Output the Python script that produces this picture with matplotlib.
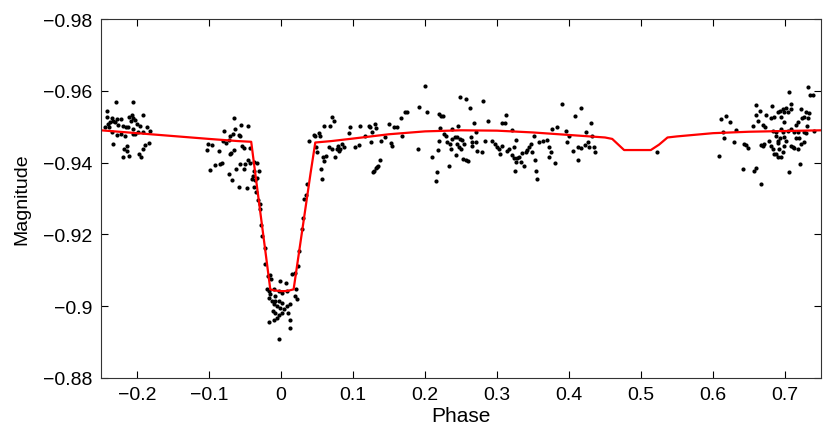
import matplotlib
matplotlib.use("Agg")
import matplotlib.pyplot as plt
import numpy as np

plt.rcParams['font.family'] = ['Liberation Sans', 'DejaVu Sans']

# observed points, grouped by phase range
left_phase = [-0.2296, -0.2050, -0.2421, -0.2412, -0.2352, -0.2328, -0.2282, -0.2226, -0.2106, -0.2073,
              -0.2050, -0.2027, -0.2087, -0.1911, -0.2398, -0.2375, -0.2305, -0.2259, -0.2189, -0.2152,
              -0.2120, -0.2050, -0.2004, -0.1957, -0.1864, -0.1818, -0.1911, -0.2050, -0.2166, -0.2226,
              -0.2282, -0.2352, -0.2328, -0.2143, -0.2180, -0.2143, -0.1888, -0.1911, -0.1827, -0.2189,
              -0.2106, -0.1966, -0.1943, -0.2444, -0.2384, -0.1980, -0.2027]
left_mag = [-0.9568, -0.9568, -0.9543, -0.9528, -0.9524, -0.9517, -0.9521, -0.9521, -0.9528, -0.9533,
            -0.9524, -0.9519, -0.9515, -0.9533, -0.9507, -0.9512, -0.9512, -0.9506, -0.9503, -0.9498,
            -0.9500, -0.9493, -0.9507, -0.9503, -0.9498, -0.9487, -0.9484, -0.9481, -0.9475, -0.9480,
            -0.9478, -0.9484, -0.9452, -0.9447, -0.9438, -0.9433, -0.9450, -0.9438, -0.9454, -0.9416,
            -0.9419, -0.9424, -0.9416, -0.9498, -0.9498, -0.9484, -0.9480]

eclipse_phase = [-0.0650, -0.0557, -0.0459, -0.0789, -0.0636, -0.0668, -0.0715, -0.0589, -0.0566, -0.0761,
                 -0.0808, -0.0729, -0.0543, -0.0520, -0.0427, -0.0659, -0.0696, -0.0715, -0.1021, -0.0961,
                 -0.1030, -0.0868, -0.0984, -0.0914, -0.0845, -0.0821, -0.0729, -0.0682, -0.0622, -0.0575,
                 -0.0497, -0.0520, -0.0459, -0.0436, -0.0381, -0.0334, -0.0311, -0.0381, -0.0390, -0.0404,
                 -0.0357, -0.0334, -0.0589, -0.0473, -0.0381, -0.0343, -0.0325, -0.0297, -0.0288, -0.0279,
                 -0.0265, -0.0218, -0.0228, -0.0186, -0.0149, -0.0135, -0.0195, -0.0172, -0.0149, -0.0102,
                 -0.0079, -0.0009, -0.0032, 0.0014, 0.0083, 0.0074, -0.0172, -0.0125, -0.0079, -0.0032,
                 0.0014, -0.0093, -0.0056, -0.0009, 0.0037, 0.0083, 0.0130, -0.0111, -0.0079, -0.0032,
                 0.0014, -0.0172, -0.0102, -0.0056, 0.0093, 0.0121, 0.0130, -0.0032, 0.0223, 0.0200,
                 0.0213, 0.0153, 0.0200, 0.0232, 0.0255, 0.0292, 0.0306, 0.0325, 0.0353, 0.0362,
                 0.0385]
eclipse_mag = [-0.9524, -0.9504, -0.9501, -0.9487, -0.9493, -0.9479, -0.9473, -0.9477, -0.9475, -0.9456,
               -0.9461, -0.9464, -0.9447, -0.9442, -0.9442, -0.9436, -0.9428, -0.9424, -0.9451, -0.9449,
               -0.9436, -0.9433, -0.9379, -0.9394, -0.9396, -0.9398, -0.9368, -0.9351, -0.9382, -0.9396,
               -0.9396, -0.9382, -0.9408, -0.9400, -0.9402, -0.9398, -0.9377, -0.9377, -0.9363, -0.9354,
               -0.9352, -0.9356, -0.9333, -0.9328, -0.9333, -0.9317, -0.9296, -0.9284, -0.9270, -0.9226,
               -0.9196, -0.9163, -0.9117, -0.9084, -0.9087, -0.9075, -0.9047, -0.9043, -0.9033, -0.9047,
               -0.9029, -0.9071, -0.9043, -0.9038, -0.9043, -0.9066, -0.9024, -0.9015, -0.9015, -0.9015,
               -0.9010, -0.9006, -0.9001, -0.8996, -0.8992, -0.9001, -0.9006, -0.8987, -0.8980, -0.8975,
               -0.8980, -0.8956, -0.8962, -0.8968, -0.8982, -0.8962, -0.8938, -0.8910, -0.9019, -0.9029,
               -0.9047, -0.9089, -0.9092, -0.9112, -0.9154, -0.9215, -0.9247, -0.9298, -0.9309, -0.9340,
               -0.9461]

mid_phase = [0.0454, 0.0477, 0.0523, 0.0546, 0.0486, 0.0500, 0.0584, 0.0602, 0.0630, 0.0556,
             0.0570, 0.0602, 0.0686, 0.0709, 0.0732, 0.0662, 0.0709, 0.0755, 0.0778, 0.0802,
             0.0825, 0.0848, 0.0871, 0.0788, 0.0941, 0.0964, 0.1034, 0.1080, 0.1103, 0.1173,
             0.1219, 0.1242, 0.1266, 0.1312, 0.1326, 0.1252, 0.1382, 0.1442, 0.1498, 0.1567,
             0.1614, 0.1521, 0.1544, 0.1660, 0.1716, 0.1753, 0.1683, 0.1372, 0.1344, 0.1326,
             0.1298, 0.1280, 0.1335, 0.1915, 0.1994, 0.2031, 0.1901, 0.2101, 0.2161, 0.2147,
             0.2184, 0.2198, 0.2208, 0.2217, 0.2254, 0.2194, 0.2263, 0.2286, 0.2310, 0.2347,
             0.2356, 0.2379, 0.2412, 0.2440, 0.2449, 0.2486, 0.2426, 0.2458, 0.2486, 0.2333,
             0.2472, 0.2379]
mid_mag = [-0.9477, -0.9473, -0.9483, -0.9475, -0.9443, -0.9429, -0.9415, -0.9405, -0.9419, -0.9382,
           -0.9354, -0.9501, -0.9501, -0.9526, -0.9517, -0.9443, -0.9438, -0.9415, -0.9438, -0.9433,
           -0.9438, -0.9452, -0.9443, -0.9447, -0.9483, -0.9498, -0.9443, -0.9449, -0.9503, -0.9475,
           -0.9503, -0.9498, -0.9486, -0.9508, -0.9496, -0.9458, -0.9461, -0.9470, -0.9508, -0.9498,
           -0.9498, -0.9456, -0.9447, -0.9523, -0.9540, -0.9542, -0.9473, -0.9408, -0.9391, -0.9384,
           -0.9378, -0.9375, -0.9387, -0.9554, -0.9613, -0.9540, -0.9438, -0.9415, -0.9373, -0.9350,
           -0.9436, -0.9461, -0.9496, -0.9531, -0.9529, -0.9535, -0.9480, -0.9473, -0.9457, -0.9452,
           -0.9438, -0.9466, -0.9470, -0.9470, -0.9452, -0.9466, -0.9421, -0.9503, -0.9582, -0.9390,
           -0.9443, -0.9494]

late_phase = [0.2517, 0.2540, 0.2494, 0.2526, 0.2572, 0.2619, 0.2809, 0.2679, 0.2879, 0.3064,
              0.3111, 0.3129, 0.2563, 0.2600, 0.2633, 0.2656, 0.2712, 0.2647, 0.2726, 0.2786,
              0.2832, 0.2925, 0.2972, 0.3004, 0.3027, 0.3036, 0.3074, 0.3143, 0.3166, 0.3213,
              0.3259, 0.3236, 0.3213, 0.3236, 0.3282, 0.3306, 0.3329, 0.3259, 0.3250, 0.3375,
              0.3352, 0.3398, 0.3422, 0.3445, 0.3468, 0.3491, 0.3514, 0.3528, 0.3538, 0.3561,
              0.3584, 0.3640, 0.3700, 0.3723, 0.3746, 0.3723, 0.3807, 0.3770, 0.3839, 0.3900,
              0.3955, 0.4002, 0.3978, 0.4057, 0.4085, 0.4118, 0.4164, 0.4164, 0.4118, 0.4234,
              0.4257, 0.4224, 0.4303, 0.4280, 0.4317, 0.4350, 0.4364, 0.2702, 0.5220]
late_mag = [-0.9464, -0.9452, -0.9438, -0.9410, -0.9577, -0.9551, -0.9571, -0.9510, -0.9517, -0.9509,
            -0.9509, -0.9533, -0.9408, -0.9405, -0.9470, -0.9458, -0.9458, -0.9445, -0.9433, -0.9429,
            -0.9460, -0.9460, -0.9452, -0.9443, -0.9438, -0.9424, -0.9445, -0.9433, -0.9438, -0.9492,
            -0.9464, -0.9444, -0.9421, -0.9412, -0.9412, -0.9417, -0.9403, -0.9401, -0.9378, -0.9390,
            -0.9427, -0.9429, -0.9436, -0.9443, -0.9452, -0.9429, -0.9475, -0.9406, -0.9378, -0.9354,
            -0.9457, -0.9460, -0.9463, -0.9443, -0.9429, -0.9417, -0.9399, -0.9494, -0.9498, -0.9562,
            -0.9489, -0.9475, -0.9458, -0.9433, -0.9531, -0.9443, -0.9440, -0.9551, -0.9408, -0.9486,
            -0.9458, -0.9449, -0.9510, -0.9443, -0.9475, -0.9443, -0.9429, -0.9484, -0.9430]

right_phase = [0.6086, 0.6109, 0.6179, 0.6239, 0.6133, 0.6156, 0.6295, 0.6318, 0.6411, 0.6434,
               0.6457, 0.6490, 0.6550, 0.6573, 0.6597, 0.6597, 0.6597, 0.6620, 0.6657, 0.6689,
               0.6722, 0.6666, 0.6689, 0.6713, 0.6736, 0.6666, 0.6815, 0.6805, 0.6852, 0.6829,
               0.6782, 0.6805, 0.6829, 0.6843, 0.6875, 0.6907, 0.6945, 0.6921, 0.6898, 0.6907,
               0.6875, 0.6898, 0.6935, 0.6968, 0.6991, 0.6945, 0.7014, 0.7047, 0.7084, 0.7061,
               0.7084, 0.6982, 0.6968, 0.6991, 0.7014, 0.6991, 0.6968, 0.7061, 0.7084, 0.7107,
               0.7130, 0.7130, 0.7084, 0.7153, 0.7177, 0.7177, 0.7200, 0.7186, 0.7223, 0.7237,
               0.7269, 0.7293, 0.7316, 0.7339, 0.7325, 0.7353, 0.7385, 0.7306, 0.7269, 0.7293,
               0.7223, 0.7260, 0.7214, 0.7153, 0.7038, 0.6935, 0.6880, 0.6945, 0.7399]
right_mag = [-0.9419, -0.9522, -0.9531, -0.9514, -0.9484, -0.9468, -0.9457, -0.9492, -0.9382, -0.9452,
             -0.9449, -0.9440, -0.9501, -0.9378, -0.9384, -0.9561, -0.9533, -0.9517, -0.9545, -0.9505,
             -0.9498, -0.9449, -0.9447, -0.9452, -0.9533, -0.9340, -0.9559, -0.9523, -0.9526, -0.9489,
             -0.9461, -0.9447, -0.9438, -0.9424, -0.9424, -0.9415, -0.9417, -0.9438, -0.9461, -0.9455,
             -0.9473, -0.9540, -0.9545, -0.9548, -0.9542, -0.9526, -0.9551, -0.9540, -0.9548, -0.9596,
             -0.9563, -0.9512, -0.9484, -0.9470, -0.9461, -0.9447, -0.9430, -0.9375, -0.9447, -0.9443,
             -0.9440, -0.9484, -0.9495, -0.9505, -0.9514, -0.9486, -0.9468, -0.9438, -0.9548, -0.9523,
             -0.9526, -0.9540, -0.9523, -0.9538, -0.9610, -0.9588, -0.9588, -0.9503, -0.9484, -0.9483,
             -0.9452, -0.9458, -0.9396, -0.9468, -0.9489, -0.9468, -0.9484, -0.9495, -0.9489]

# model light curve
model_phase = [-0.25, -0.20, -0.15, -0.10, -0.06, -0.0414, -0.035, -0.028, -0.021, -0.0149,
               -0.010, -0.005, 0.0, 0.005, 0.010, 0.0175, 0.025, 0.033, 0.041, 0.0476,
               0.07, 0.10, 0.15, 0.20, 0.25, 0.30, 0.35, 0.40, 0.45, 0.46,
               0.4765, 0.5136, 0.525, 0.5368, 0.55, 0.60, 0.65, 0.70, 0.75]
model_mag = [-0.9490, -0.9482, -0.9474, -0.9466, -0.9460, -0.9458, -0.9358, -0.9250, -0.9142, -0.9047,
             -0.9044, -0.9043, -0.9042, -0.9042, -0.9043, -0.9047, -0.9150, -0.9260, -0.9370, -0.9456,
             -0.9460, -0.9467, -0.9479, -0.9487, -0.9490, -0.9489, -0.9484, -0.9477, -0.9470, -0.9466,
             -0.9435, -0.9435, -0.9450, -0.9470, -0.9473, -0.9482, -0.9486, -0.9488, -0.9490]

obs_phase = np.concatenate([left_phase, eclipse_phase, mid_phase, late_phase, right_phase])
obs_mag = np.concatenate([left_mag, eclipse_mag, mid_mag, late_mag, right_mag])

fig = plt.figure(figsize=(8.3, 4.39), dpi=100)
ax = fig.add_axes([0.1217, 0.1367, 0.8675, 0.8177])

ax.plot(obs_phase, obs_mag, 'o', color='k', ms=3.0, mec='none')
ax.plot(model_phase, model_mag, '-', color='r', lw=1.6)

ax.set_xlim(-0.25, 0.75)
ax.set_ylim(-0.88, -0.98)

xt = [-0.2, -0.1, 0, 0.1, 0.2, 0.3, 0.4, 0.5, 0.6, 0.7]
yt = [-0.98, -0.96, -0.94, -0.92, -0.9, -0.88]
ax.set_xticks(xt)
ax.set_xticklabels([('%g' % v).replace('-', '\u2212') for v in xt])
ax.set_yticks(yt)
ax.set_yticklabels([('%g' % v).replace('-', '\u2212') for v in yt])

ax.tick_params(direction='in', length=5, width=0.8, labelsize=14, top=True, right=True, pad=6)
for s in ax.spines.values():
    s.set_linewidth(0.8)
    s.set_color('#333333')

ax.set_xlabel('Phase', fontsize=15, labelpad=2)
ax.set_ylabel('Magnitude', fontsize=14, labelpad=9)

fig.savefig('out.png', dpi=100)
